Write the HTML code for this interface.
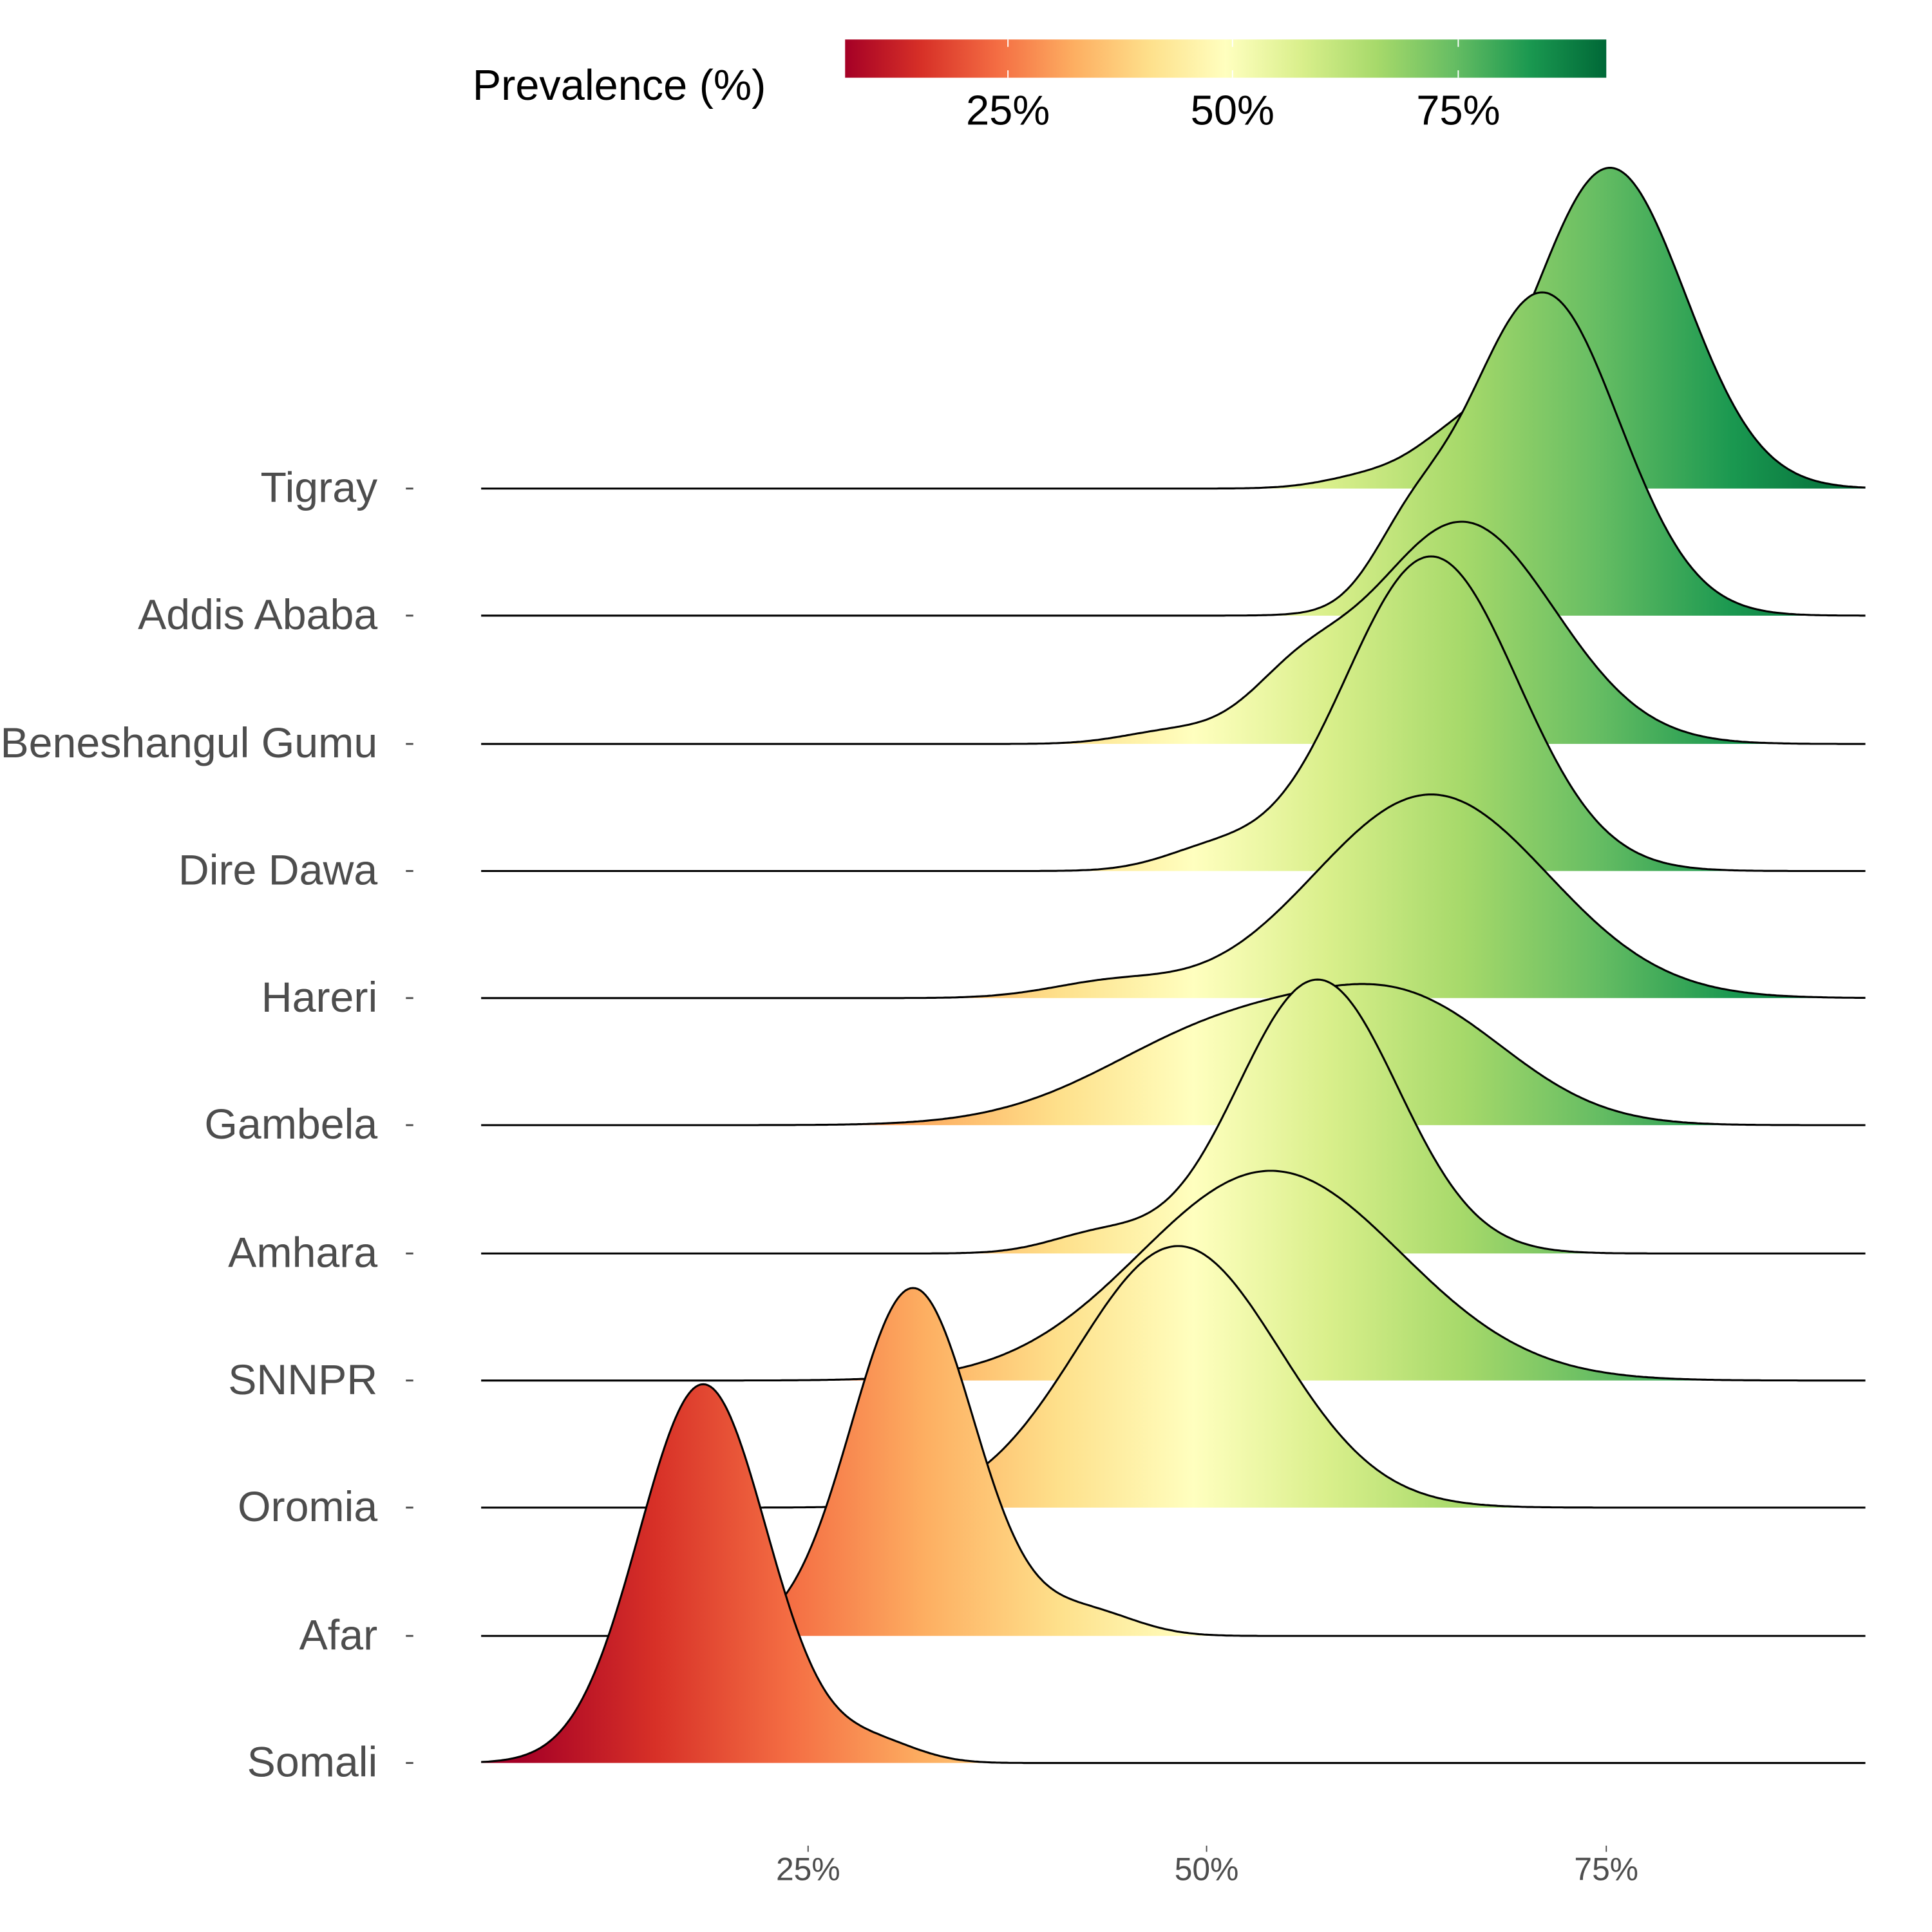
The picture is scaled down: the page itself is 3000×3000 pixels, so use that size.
<!DOCTYPE html>
<html><head><meta charset="utf-8"><style>html,body{margin:0;padding:0;background:#fff}svg{display:block}</style></head>
<body>
<svg id="s" width="3000" height="3000" viewBox="0 0 1566 1566" xmlns="http://www.w3.org/2000/svg" font-family="Liberation Sans, Arial, sans-serif">
<defs>
<linearGradient id="g" gradientUnits="userSpaceOnUse" x1="421" y1="0" x2="1514" y2="0">
<stop offset="0" stop-color="#a50026"/><stop offset="0.1" stop-color="#d73027"/><stop offset="0.2" stop-color="#f46d43"/><stop offset="0.3" stop-color="#fdae61"/><stop offset="0.4" stop-color="#fee08b"/><stop offset="0.5" stop-color="#ffffbf"/><stop offset="0.6" stop-color="#d9ef8b"/><stop offset="0.7" stop-color="#a6d96a"/><stop offset="0.8" stop-color="#66bd63"/><stop offset="0.9" stop-color="#1a9850"/><stop offset="1" stop-color="#006837"/>
</linearGradient>
<linearGradient id="gl" x1="0" y1="0" x2="1" y2="0">
<stop offset="0" stop-color="#a50026"/><stop offset="0.1" stop-color="#d73027"/><stop offset="0.2" stop-color="#f46d43"/><stop offset="0.3" stop-color="#fdae61"/><stop offset="0.4" stop-color="#fee08b"/><stop offset="0.5" stop-color="#ffffbf"/><stop offset="0.6" stop-color="#d9ef8b"/><stop offset="0.7" stop-color="#a6d96a"/><stop offset="0.8" stop-color="#66bd63"/><stop offset="0.9" stop-color="#1a9850"/><stop offset="1" stop-color="#006837"/>
</linearGradient>
</defs>
<text x="383" y="81" font-size="34.8" fill="#000">Prevalence (%)</text>
<rect x="685" y="32" width="617" height="31" fill="url(#gl)"/>
<g stroke="#fff" stroke-width="1"><line x1="817" y1="32" x2="817" y2="38"/><line x1="817" y1="57" x2="817" y2="63"/><line x1="999" y1="32" x2="999" y2="38"/><line x1="999" y1="57" x2="999" y2="63"/><line x1="1182" y1="32" x2="1182" y2="38"/><line x1="1182" y1="57" x2="1182" y2="63"/></g>
<g font-size="34" fill="#000" text-anchor="middle"><text x="817" y="101">25%</text><text x="999" y="101">50%</text><text x="1182" y="101">75%</text></g>
<g id="ridges"></g>
<g font-size="34.6" fill="#4d4d4d" text-anchor="end" id="labels"></g>
<g font-size="26" fill="#4d4d4d" text-anchor="middle"><text x="655" y="1524">25%</text><text x="978" y="1524">50%</text><text x="1302" y="1524">75%</text></g>
<g stroke="#4d4d4d" stroke-width="1"><line x1="655" y1="1496" x2="655" y2="1501"/><line x1="978" y1="1496" x2="978" y2="1501"/><line x1="1302" y1="1496" x2="1302" y2="1501"/></g>
</svg>
<script>
var R=[
["Tigray",396,[[1305,61,260],[1120,40,12],[1175,30,22]]],
["Addis Ababa",499,[[1250,62,262],[1140,30,40]]],
["Beneshangul Gumu",603,[[1185,75,180],[1050,40,40],[950,40,10]]],
["Dire Dawa",706,[[1160,70,255],[980,40,15]]],
["Hareri",809,[[1160,95,165],[900,50,12]]],
["Gambela",912,[[1000,100,80],[1150,80,80]]],
["Amhara",1016,[[1068,65,222],[890,40,15]]],
["SNNPR",1119,[[1030,106,170]]],
["Oromia",1222,[[955,82,212]]],
["Afar",1326,[[740,50,282],[880,40,20]]],
["Somali",1429,[[570,52,307],[710,35,16]]]
];
var ns="http://www.w3.org/2000/svg",g=document.getElementById("ridges"),L=document.getElementById("labels");
R.forEach(function(r){
 var b=r[1],pts=[];
 for(var x=390;x<=1512;x+=2){var h=0;r[2].forEach(function(c){h+=c[2]*Math.exp(-0.5*Math.pow((x-c[0])/c[1],2));});pts.push(x+","+(b-h).toFixed(1));}
 var d="M"+pts.join(" L");
 var f=document.createElementNS(ns,"path");f.setAttribute("d",d+" L1512,"+b+" L390,"+b+"Z");f.setAttribute("fill","url(#g)");g.appendChild(f);
 var p=document.createElementNS(ns,"path");p.setAttribute("d",d);p.setAttribute("fill","none");p.setAttribute("stroke","#000");p.setAttribute("stroke-width","1.6");g.appendChild(p);
 var t=document.createElementNS(ns,"text");t.setAttribute("x","306");t.setAttribute("y",b+11);t.textContent=r[0];L.appendChild(t);
 var k=document.createElementNS(ns,"line");k.setAttribute("x1","329");k.setAttribute("x2","335");k.setAttribute("y1",b);k.setAttribute("y2",b);k.setAttribute("stroke","#4d4d4d");k.setAttribute("stroke-width","1.5");L.appendChild(k);
});
</script>
</body></html>
